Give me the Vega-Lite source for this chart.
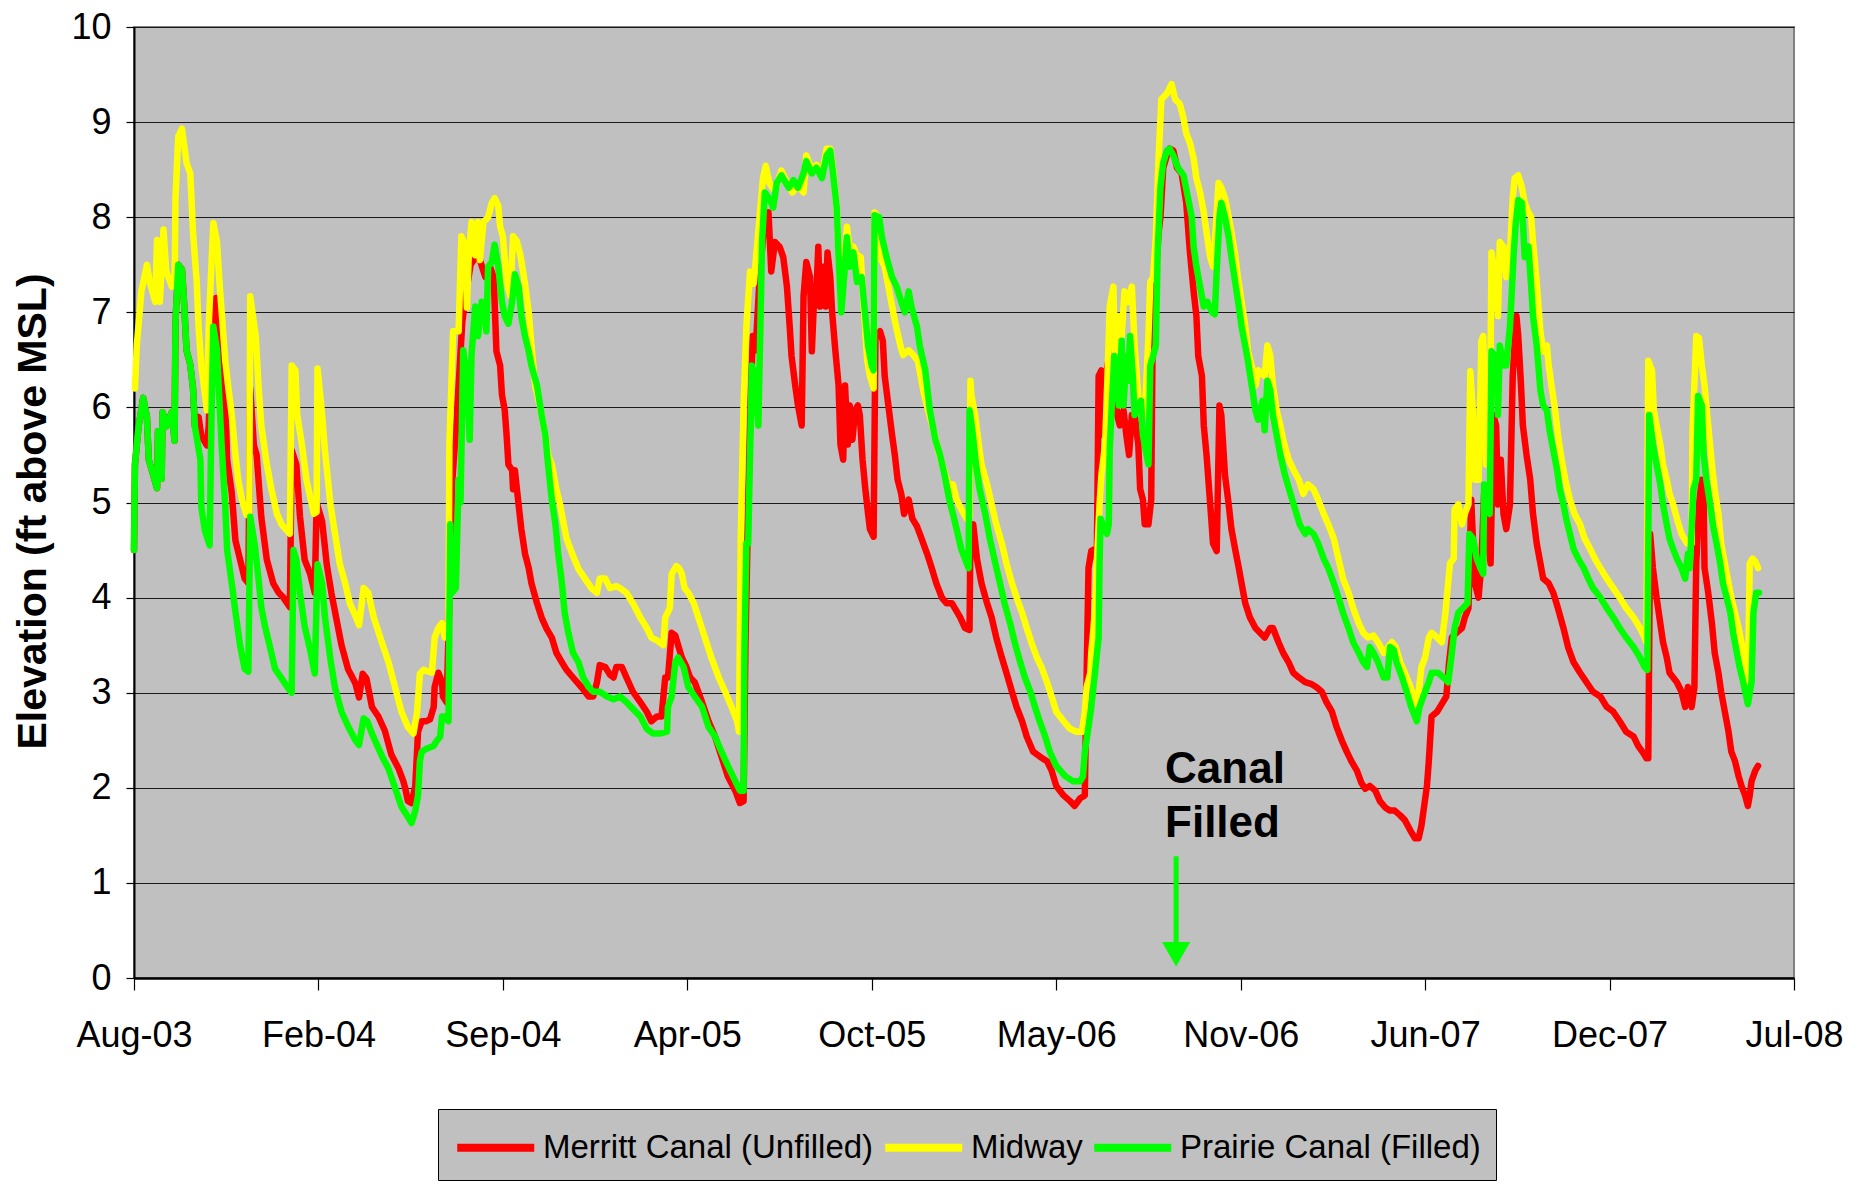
{
"$schema": "https://vega.github.io/schema/vega-lite/v6.json",
"width": 1660,
"height": 951,
"autosize": {"type": "none"},
"padding": {"left": 134, "top": 27, "right": 68, "bottom": 212},
"background": "#FFFFFF",
"datasets": {
"merritt": [
{"date":"2003-08-11","elev":4.5},{"date":"2003-08-12","elev":5.4},{"date":"2003-08-16","elev":5.8},{"date":"2003-08-21","elev":6.1},{"date":"2003-08-25","elev":5.9},{"date":"2003-08-27","elev":5.45},{"date":"2003-08-30","elev":5.35},{"date":"2003-09-05","elev":5.15},{"date":"2003-09-06","elev":5.75},{"date":"2003-09-10","elev":5.25},{"date":"2003-09-11","elev":5.95},{"date":"2003-09-15","elev":5.8},{"date":"2003-09-21","elev":5.95},{"date":"2003-09-24","elev":5.65},{"date":"2003-09-25","elev":6.9},{"date":"2003-09-28","elev":7.5},{"date":"2003-10-02","elev":7.45},{"date":"2003-10-04","elev":7.15},{"date":"2003-10-07","elev":6.6},{"date":"2003-10-11","elev":6.45},{"date":"2003-10-14","elev":6.2},{"date":"2003-10-16","elev":5.8},{"date":"2003-10-20","elev":5.9},{"date":"2003-10-23","elev":5.7},{"date":"2003-10-29","elev":5.6},{"date":"2003-10-31","elev":5.8},{"date":"2003-11-03","elev":6.6},{"date":"2003-11-08","elev":7.15},{"date":"2003-11-12","elev":6.45},{"date":"2003-11-18","elev":6.05},{"date":"2003-11-20","elev":5.45},{"date":"2003-11-25","elev":5.1},{"date":"2003-11-29","elev":4.6},{"date":"2003-12-04","elev":4.4},{"date":"2003-12-09","elev":4.2},{"date":"2003-12-13","elev":4.15},{"date":"2003-12-15","elev":6.2},{"date":"2003-12-19","elev":5.6},{"date":"2003-12-22","elev":5.5},{"date":"2003-12-27","elev":4.85},
{"date":"2004-01-02","elev":4.4},{"date":"2004-01-09","elev":4.15},{"date":"2004-01-15","elev":4.05},{"date":"2004-01-20","elev":4.0},{"date":"2004-01-27","elev":3.9},{"date":"2004-01-29","elev":5.55},{"date":"2004-02-03","elev":5.4},{"date":"2004-02-07","elev":4.85},{"date":"2004-02-12","elev":4.4},{"date":"2004-02-18","elev":4.25},{"date":"2004-02-23","elev":4.05},{"date":"2004-02-25","elev":5.0},{"date":"2004-03-02","elev":4.8},{"date":"2004-03-07","elev":4.35},{"date":"2004-03-12","elev":4.05},{"date":"2004-03-18","elev":3.75},{"date":"2004-03-23","elev":3.5},{"date":"2004-03-30","elev":3.25},{"date":"2004-04-07","elev":3.1},{"date":"2004-04-11","elev":2.95},{"date":"2004-04-15","elev":3.2},{"date":"2004-04-19","elev":3.15},{"date":"2004-04-25","elev":2.85},{"date":"2004-05-02","elev":2.75},{"date":"2004-05-09","elev":2.6},{"date":"2004-05-16","elev":2.35},{"date":"2004-05-24","elev":2.2},{"date":"2004-05-29","elev":2.07},{"date":"2004-05-31","elev":2.0},{"date":"2004-06-03","elev":1.86},{"date":"2004-06-07","elev":1.84},{"date":"2004-06-11","elev":2.02},{"date":"2004-06-14","elev":2.59},{"date":"2004-06-18","elev":2.7},{"date":"2004-06-23","elev":2.7},{"date":"2004-06-27","elev":2.72},{"date":"2004-07-01","elev":2.85},{"date":"2004-07-02","elev":3.06},{"date":"2004-07-06","elev":3.21},{"date":"2004-07-10","elev":3.11},{"date":"2004-07-11","elev":2.96},{"date":"2004-07-15","elev":2.9},{"date":"2004-07-17","elev":3.6},{"date":"2004-07-21","elev":5.2},{"date":"2004-07-26","elev":5.9},{"date":"2004-08-01","elev":6.9},{"date":"2004-08-05","elev":7.2},{"date":"2004-08-10","elev":7.5},{"date":"2004-08-17","elev":7.6},{"date":"2004-08-20","elev":7.55},{"date":"2004-08-26","elev":7.37},{"date":"2004-08-31","elev":7.48},{"date":"2004-09-04","elev":7.37},{"date":"2004-09-07","elev":6.59},{"date":"2004-09-11","elev":6.44},{"date":"2004-09-13","elev":6.13},{"date":"2004-09-16","elev":5.97},{"date":"2004-09-18","elev":5.71},{"date":"2004-09-20","elev":5.4},{"date":"2004-09-24","elev":5.34},{"date":"2004-09-25","elev":5.14},{"date":"2004-09-27","elev":5.34},{"date":"2004-10-01","elev":4.98},{"date":"2004-10-04","elev":4.72},{"date":"2004-10-08","elev":4.46},{"date":"2004-10-12","elev":4.31},{"date":"2004-10-15","elev":4.15},{"date":"2004-10-21","elev":3.94},{"date":"2004-10-26","elev":3.79},{"date":"2004-10-31","elev":3.68},{"date":"2004-11-06","elev":3.58},{"date":"2004-11-11","elev":3.42},{"date":"2004-11-17","elev":3.32},{"date":"2004-11-22","elev":3.24},{"date":"2004-11-29","elev":3.16},{"date":"2004-12-08","elev":3.06},{"date":"2004-12-16","elev":2.96},{"date":"2004-12-21","elev":2.96},{"date":"2004-12-25","elev":3.11},{"date":"2004-12-28","elev":3.29},
{"date":"2005-01-03","elev":3.27},{"date":"2005-01-08","elev":3.19},{"date":"2005-01-12","elev":3.16},{"date":"2005-01-15","elev":3.27},{"date":"2005-01-21","elev":3.27},{"date":"2005-01-26","elev":3.16},{"date":"2005-02-02","elev":3.01},{"date":"2005-02-10","elev":2.9},{"date":"2005-02-17","elev":2.8},{"date":"2005-02-22","elev":2.7},{"date":"2005-02-28","elev":2.75},{"date":"2005-03-05","elev":2.75},{"date":"2005-03-09","elev":3.16},{"date":"2005-03-12","elev":3.16},{"date":"2005-03-16","elev":3.63},{"date":"2005-03-20","elev":3.6},{"date":"2005-03-23","elev":3.5},{"date":"2005-03-27","elev":3.37},{"date":"2005-04-01","elev":3.27},{"date":"2005-04-05","elev":3.16},{"date":"2005-04-10","elev":3.11},{"date":"2005-04-18","elev":2.9},{"date":"2005-04-25","elev":2.7},{"date":"2005-05-02","elev":2.54},{"date":"2005-05-09","elev":2.33},{"date":"2005-05-16","elev":2.12},{"date":"2005-05-24","elev":1.97},{"date":"2005-05-29","elev":1.84},{"date":"2005-06-02","elev":1.86},{"date":"2005-06-04","elev":3.5},{"date":"2005-06-07","elev":5.0},{"date":"2005-06-10","elev":6.2},{"date":"2005-06-12","elev":6.75},{"date":"2005-06-15","elev":6.6},{"date":"2005-06-19","elev":7.3},{"date":"2005-06-24","elev":7.9},{"date":"2005-06-29","elev":8.05},{"date":"2005-07-02","elev":7.43},{"date":"2005-07-06","elev":7.74},{"date":"2005-07-11","elev":7.69},{"date":"2005-07-15","elev":7.58},{"date":"2005-07-19","elev":7.27},{"date":"2005-07-22","elev":6.85},{"date":"2005-07-24","elev":6.54},{"date":"2005-07-28","elev":6.23},{"date":"2005-07-31","elev":6.02},{"date":"2005-08-04","elev":5.81},{"date":"2005-08-06","elev":7.17},{"date":"2005-08-09","elev":7.53},{"date":"2005-08-13","elev":7.37},{"date":"2005-08-15","elev":6.59},{"date":"2005-08-18","elev":7.27},{"date":"2005-08-20","elev":7.22},{"date":"2005-08-22","elev":7.69},{"date":"2005-08-24","elev":7.06},{"date":"2005-08-27","elev":7.48},{"date":"2005-08-30","elev":7.06},{"date":"2005-09-01","elev":7.63},{"date":"2005-09-04","elev":7.37},{"date":"2005-09-06","elev":7.0},{"date":"2005-09-09","elev":6.65},{"date":"2005-09-13","elev":6.23},{"date":"2005-09-15","elev":5.61},{"date":"2005-09-18","elev":5.45},{"date":"2005-09-20","elev":6.23},{"date":"2005-09-23","elev":5.61},{"date":"2005-09-25","elev":6.02},{"date":"2005-09-28","elev":5.66},{"date":"2005-10-01","elev":5.97},{"date":"2005-10-04","elev":6.02},{"date":"2005-10-06","elev":5.92},{"date":"2005-10-09","elev":5.45},{"date":"2005-10-12","elev":5.14},{"date":"2005-10-15","elev":4.88},{"date":"2005-10-17","elev":4.72},{"date":"2005-10-21","elev":4.64},{"date":"2005-10-23","elev":6.75},{"date":"2005-10-28","elev":6.8},{"date":"2005-10-31","elev":6.7},{"date":"2005-11-02","elev":6.33},{"date":"2005-11-06","elev":6.02},{"date":"2005-11-10","elev":5.71},{"date":"2005-11-13","elev":5.5},{"date":"2005-11-16","elev":5.24},{"date":"2005-11-20","elev":5.09},{"date":"2005-11-23","elev":4.88},{"date":"2005-11-28","elev":5.03},{"date":"2005-12-02","elev":4.83},{"date":"2005-12-07","elev":4.75},{"date":"2005-12-12","elev":4.62},{"date":"2005-12-18","elev":4.46},{"date":"2005-12-23","elev":4.31},{"date":"2005-12-28","elev":4.15},
{"date":"2006-01-03","elev":4.0},{"date":"2006-01-08","elev":3.94},{"date":"2006-01-14","elev":3.94},{"date":"2006-01-17","elev":3.89},{"date":"2006-01-23","elev":3.79},{"date":"2006-01-28","elev":3.68},{"date":"2006-02-02","elev":3.66},{"date":"2006-02-03","elev":4.72},{"date":"2006-02-06","elev":4.77},{"date":"2006-02-10","elev":4.41},{"date":"2006-02-15","elev":4.15},{"date":"2006-02-21","elev":3.94},{"date":"2006-02-26","elev":3.79},{"date":"2006-03-03","elev":3.58},{"date":"2006-03-09","elev":3.37},{"date":"2006-03-14","elev":3.21},{"date":"2006-03-20","elev":3.01},{"date":"2006-03-25","elev":2.85},{"date":"2006-03-31","elev":2.7},{"date":"2006-04-05","elev":2.54},{"date":"2006-04-12","elev":2.38},{"date":"2006-04-19","elev":2.33},{"date":"2006-04-27","elev":2.28},{"date":"2006-05-02","elev":2.18},{"date":"2006-05-07","elev":2.02},{"date":"2006-05-15","elev":1.92},{"date":"2006-05-22","elev":1.86},{"date":"2006-05-27","elev":1.81},{"date":"2006-06-02","elev":1.89},{"date":"2006-06-07","elev":1.92},{"date":"2006-06-09","elev":3.2},{"date":"2006-06-11","elev":4.31},{"date":"2006-06-14","elev":4.49},{"date":"2006-06-18","elev":4.51},{"date":"2006-06-20","elev":4.4},{"date":"2006-06-22","elev":6.33},{"date":"2006-06-25","elev":6.39},{"date":"2006-06-27","elev":5.71},{"date":"2006-06-30","elev":6.33},{"date":"2006-07-04","elev":6.59},{"date":"2006-07-08","elev":6.65},{"date":"2006-07-12","elev":5.92},{"date":"2006-07-15","elev":5.81},{"date":"2006-07-19","elev":5.97},{"date":"2006-07-22","elev":5.71},{"date":"2006-07-25","elev":5.5},{"date":"2006-07-28","elev":5.92},{"date":"2006-07-31","elev":5.92},{"date":"2006-08-04","elev":5.61},{"date":"2006-08-06","elev":5.14},{"date":"2006-08-09","elev":5.03},{"date":"2006-08-11","elev":4.77},{"date":"2006-08-15","elev":4.77},{"date":"2006-08-18","elev":5.03},{"date":"2006-08-20","elev":7.22},{"date":"2006-08-22","elev":7.27},{"date":"2006-08-26","elev":7.84},{"date":"2006-08-28","elev":8.0},{"date":"2006-08-31","elev":8.52},{"date":"2006-09-04","elev":8.65},{"date":"2006-09-07","elev":8.72},{"date":"2006-09-11","elev":8.7},{"date":"2006-09-15","elev":8.52},{"date":"2006-09-20","elev":8.46},{"date":"2006-09-25","elev":8.15},{"date":"2006-09-29","elev":7.63},{"date":"2006-10-03","elev":7.22},{"date":"2006-10-06","elev":6.96},{"date":"2006-10-08","elev":6.54},{"date":"2006-10-12","elev":6.33},{"date":"2006-10-14","elev":5.81},{"date":"2006-10-17","elev":5.5},{"date":"2006-10-21","elev":4.98},{"date":"2006-10-24","elev":4.57},{"date":"2006-10-28","elev":4.49},{"date":"2006-10-31","elev":6.02},{"date":"2006-11-02","elev":5.92},{"date":"2006-11-06","elev":5.29},{"date":"2006-11-10","elev":4.98},{"date":"2006-11-13","elev":4.72},{"date":"2006-11-17","elev":4.51},{"date":"2006-11-21","elev":4.31},{"date":"2006-11-24","elev":4.15},{"date":"2006-11-28","elev":3.94},{"date":"2006-12-03","elev":3.79},{"date":"2006-12-09","elev":3.68},{"date":"2006-12-14","elev":3.63},{"date":"2006-12-19","elev":3.58},{"date":"2006-12-25","elev":3.68},{"date":"2006-12-28","elev":3.68},
{"date":"2007-01-03","elev":3.53},{"date":"2007-01-08","elev":3.42},{"date":"2007-01-14","elev":3.32},{"date":"2007-01-19","elev":3.21},{"date":"2007-01-25","elev":3.16},{"date":"2007-02-01","elev":3.11},{"date":"2007-02-08","elev":3.09},{"date":"2007-02-13","elev":3.06},{"date":"2007-02-19","elev":3.01},{"date":"2007-02-24","elev":2.9},{"date":"2007-03-02","elev":2.8},{"date":"2007-03-07","elev":2.64},{"date":"2007-03-13","elev":2.49},{"date":"2007-03-18","elev":2.38},{"date":"2007-03-23","elev":2.28},{"date":"2007-03-29","elev":2.18},{"date":"2007-04-03","elev":2.05},{"date":"2007-04-07","elev":1.99},{"date":"2007-04-12","elev":2.02},{"date":"2007-04-18","elev":1.97},{"date":"2007-04-23","elev":1.86},{"date":"2007-04-29","elev":1.79},{"date":"2007-05-04","elev":1.76},{"date":"2007-05-09","elev":1.76},{"date":"2007-05-15","elev":1.71},{"date":"2007-05-20","elev":1.66},{"date":"2007-05-26","elev":1.55},{"date":"2007-05-31","elev":1.47},{"date":"2007-06-04","elev":1.47},{"date":"2007-06-07","elev":1.6},{"date":"2007-06-10","elev":1.81},{"date":"2007-06-13","elev":2.02},{"date":"2007-06-15","elev":2.28},{"date":"2007-06-16","elev":2.44},{"date":"2007-06-18","elev":2.75},{"date":"2007-06-24","elev":2.8},{"date":"2007-06-29","elev":2.88},{"date":"2007-07-04","elev":2.96},{"date":"2007-07-07","elev":3.32},{"date":"2007-07-10","elev":3.58},{"date":"2007-07-15","elev":3.63},{"date":"2007-07-21","elev":3.68},{"date":"2007-07-24","elev":3.79},{"date":"2007-07-28","elev":3.89},{"date":"2007-07-31","elev":5.03},{"date":"2007-08-04","elev":4.15},{"date":"2007-08-08","elev":4.0},{"date":"2007-08-11","elev":4.36},{"date":"2007-08-14","elev":5.09},{"date":"2007-08-18","elev":4.62},{"date":"2007-08-21","elev":4.36},{"date":"2007-08-24","elev":5.92},{"date":"2007-08-27","elev":5.81},{"date":"2007-08-29","elev":4.98},{"date":"2007-09-01","elev":5.45},{"date":"2007-09-04","elev":4.88},{"date":"2007-09-07","elev":4.72},{"date":"2007-09-11","elev":4.98},{"date":"2007-09-14","elev":6.33},{"date":"2007-09-18","elev":6.96},{"date":"2007-09-20","elev":6.75},{"date":"2007-09-23","elev":6.23},{"date":"2007-09-25","elev":5.81},{"date":"2007-09-29","elev":5.5},{"date":"2007-10-03","elev":5.24},{"date":"2007-10-06","elev":4.88},{"date":"2007-10-10","elev":4.57},{"date":"2007-10-14","elev":4.36},{"date":"2007-10-17","elev":4.2},{"date":"2007-10-23","elev":4.15},{"date":"2007-10-28","elev":4.05},{"date":"2007-11-02","elev":3.89},{"date":"2007-11-08","elev":3.68},{"date":"2007-11-13","elev":3.48},{"date":"2007-11-19","elev":3.32},{"date":"2007-11-26","elev":3.21},{"date":"2007-12-03","elev":3.11},{"date":"2007-12-10","elev":3.01},{"date":"2007-12-18","elev":2.96},{"date":"2007-12-25","elev":2.85},
{"date":"2008-01-01","elev":2.8},{"date":"2008-01-08","elev":2.7},{"date":"2008-01-15","elev":2.59},{"date":"2008-01-23","elev":2.54},{"date":"2008-01-28","elev":2.44},{"date":"2008-02-03","elev":2.36},{"date":"2008-02-06","elev":2.31},{"date":"2008-02-08","elev":2.31},{"date":"2008-02-10","elev":4.67},{"date":"2008-02-13","elev":4.31},{"date":"2008-02-17","elev":4.0},{"date":"2008-02-21","elev":3.73},{"date":"2008-02-24","elev":3.53},{"date":"2008-02-28","elev":3.37},{"date":"2008-03-02","elev":3.21},{"date":"2008-03-06","elev":3.16},{"date":"2008-03-10","elev":3.11},{"date":"2008-03-15","elev":3.01},{"date":"2008-03-19","elev":2.85},{"date":"2008-03-22","elev":3.06},{"date":"2008-03-26","elev":2.85},{"date":"2008-03-29","elev":3.06},{"date":"2008-03-31","elev":4.36},{"date":"2008-04-03","elev":4.98},{"date":"2008-04-06","elev":5.24},{"date":"2008-04-08","elev":5.03},{"date":"2008-04-09","elev":4.31},{"date":"2008-04-13","elev":4.05},{"date":"2008-04-17","elev":3.73},{"date":"2008-04-20","elev":3.42},{"date":"2008-04-24","elev":3.21},{"date":"2008-04-27","elev":3.01},{"date":"2008-05-01","elev":2.8},{"date":"2008-05-05","elev":2.59},{"date":"2008-05-08","elev":2.38},{"date":"2008-05-12","elev":2.28},{"date":"2008-05-16","elev":2.12},{"date":"2008-05-19","elev":2.02},{"date":"2008-05-23","elev":1.92},{"date":"2008-05-26","elev":1.81},{"date":"2008-05-28","elev":1.92},{"date":"2008-05-30","elev":2.07},{"date":"2008-06-03","elev":2.18},{"date":"2008-06-06","elev":2.23}
],
"midway": [
{"date":"2003-08-12","elev":6.2},{"date":"2003-08-14","elev":6.65},{"date":"2003-08-19","elev":7.22},{"date":"2003-08-25","elev":7.5},{"date":"2003-08-28","elev":7.32},{"date":"2003-09-03","elev":7.11},{"date":"2003-09-05","elev":7.76},{"date":"2003-09-08","elev":7.11},{"date":"2003-09-12","elev":7.87},{"date":"2003-09-15","elev":7.43},{"date":"2003-09-21","elev":7.27},{"date":"2003-09-24","elev":7.3},{"date":"2003-09-25","elev":8.2},{"date":"2003-09-28","elev":8.85},{"date":"2003-10-02","elev":8.93},{"date":"2003-10-07","elev":8.57},{"date":"2003-10-11","elev":8.46},{"date":"2003-10-13","elev":8.05},{"date":"2003-10-14","elev":7.84},{"date":"2003-10-18","elev":7.32},{"date":"2003-10-20","elev":6.85},{"date":"2003-10-23","elev":6.44},{"date":"2003-10-27","elev":6.13},{"date":"2003-10-29","elev":5.97},{"date":"2003-10-31","elev":6.85},{"date":"2003-11-05","elev":7.94},{"date":"2003-11-09","elev":7.74},{"date":"2003-11-12","elev":7.27},{"date":"2003-11-18","elev":6.49},{"date":"2003-11-21","elev":6.23},{"date":"2003-11-25","elev":5.92},{"date":"2003-11-29","elev":5.5},{"date":"2003-12-02","elev":5.24},{"date":"2003-12-06","elev":5.03},{"date":"2003-12-11","elev":4.87},{"date":"2003-12-14","elev":4.9},{"date":"2003-12-15","elev":7.17},{"date":"2003-12-18","elev":6.96},{"date":"2003-12-21","elev":6.75},{"date":"2003-12-24","elev":6.23},{"date":"2003-12-27","elev":5.81},
{"date":"2004-01-02","elev":5.4},{"date":"2004-01-07","elev":5.14},{"date":"2004-01-13","elev":4.88},{"date":"2004-01-18","elev":4.77},{"date":"2004-01-27","elev":4.67},{"date":"2004-01-29","elev":6.44},{"date":"2004-02-02","elev":6.39},{"date":"2004-02-04","elev":5.92},{"date":"2004-02-09","elev":5.61},{"date":"2004-02-14","elev":5.24},{"date":"2004-02-22","elev":4.88},{"date":"2004-02-25","elev":4.9},{"date":"2004-02-26","elev":6.41},{"date":"2004-03-02","elev":5.92},{"date":"2004-03-05","elev":5.55},{"date":"2004-03-11","elev":4.98},{"date":"2004-03-16","elev":4.67},{"date":"2004-03-21","elev":4.36},{"date":"2004-03-27","elev":4.15},{"date":"2004-04-01","elev":3.94},{"date":"2004-04-08","elev":3.79},{"date":"2004-04-11","elev":3.71},{"date":"2004-04-16","elev":4.1},{"date":"2004-04-21","elev":4.05},{"date":"2004-04-27","elev":3.79},{"date":"2004-05-04","elev":3.58},{"date":"2004-05-13","elev":3.32},{"date":"2004-05-20","elev":3.06},{"date":"2004-05-27","elev":2.8},{"date":"2004-06-03","elev":2.64},{"date":"2004-06-09","elev":2.57},{"date":"2004-06-13","elev":2.8},{"date":"2004-06-16","elev":3.2},{"date":"2004-06-20","elev":3.24},{"date":"2004-06-29","elev":3.21},{"date":"2004-07-02","elev":3.58},{"date":"2004-07-06","elev":3.68},{"date":"2004-07-10","elev":3.73},{"date":"2004-07-13","elev":3.58},{"date":"2004-07-17","elev":3.65},{"date":"2004-07-18","elev":5.6},{"date":"2004-07-22","elev":6.8},{"date":"2004-07-28","elev":6.8},{"date":"2004-07-31","elev":7.8},{"date":"2004-08-04","elev":7.7},{"date":"2004-08-06","elev":7.05},{"date":"2004-08-08","elev":7.6},{"date":"2004-08-11","elev":7.95},{"date":"2004-08-15","elev":7.6},{"date":"2004-08-18","elev":7.95},{"date":"2004-08-20","elev":7.55},{"date":"2004-08-24","elev":7.95},{"date":"2004-08-29","elev":8.0},{"date":"2004-09-02","elev":8.15},{"date":"2004-09-05","elev":8.2},{"date":"2004-09-09","elev":8.12},{"date":"2004-09-11","elev":7.9},{"date":"2004-09-14","elev":7.8},{"date":"2004-09-18","elev":7.32},{"date":"2004-09-22","elev":7.17},{"date":"2004-09-25","elev":7.8},{"date":"2004-09-29","elev":7.75},{"date":"2004-10-03","elev":7.6},{"date":"2004-10-08","elev":7.3},{"date":"2004-10-12","elev":7.0},{"date":"2004-10-15","elev":6.65},{"date":"2004-10-19","elev":6.23},{"date":"2004-10-24","elev":6.02},{"date":"2004-10-30","elev":5.71},{"date":"2004-11-02","elev":5.5},{"date":"2004-11-06","elev":5.4},{"date":"2004-11-11","elev":5.14},{"date":"2004-11-15","elev":4.98},{"date":"2004-11-19","elev":4.77},{"date":"2004-11-22","elev":4.62},{"date":"2004-11-29","elev":4.44},{"date":"2004-12-05","elev":4.3},{"date":"2004-12-12","elev":4.2},{"date":"2004-12-19","elev":4.1},{"date":"2004-12-25","elev":4.05},{"date":"2004-12-28","elev":4.2},
{"date":"2005-01-03","elev":4.2},{"date":"2005-01-08","elev":4.1},{"date":"2005-01-15","elev":4.12},{"date":"2005-01-19","elev":4.1},{"date":"2005-01-26","elev":4.05},{"date":"2005-02-02","elev":3.94},{"date":"2005-02-10","elev":3.79},{"date":"2005-02-17","elev":3.68},{"date":"2005-02-22","elev":3.58},{"date":"2005-02-28","elev":3.55},{"date":"2005-03-07","elev":3.5},{"date":"2005-03-09","elev":3.79},{"date":"2005-03-14","elev":3.89},{"date":"2005-03-16","elev":4.25},{"date":"2005-03-21","elev":4.33},{"date":"2005-03-24","elev":4.31},{"date":"2005-03-27","elev":4.25},{"date":"2005-03-30","elev":4.1},{"date":"2005-04-03","elev":4.05},{"date":"2005-04-09","elev":3.94},{"date":"2005-04-14","elev":3.79},{"date":"2005-04-21","elev":3.58},{"date":"2005-04-28","elev":3.37},{"date":"2005-05-06","elev":3.16},{"date":"2005-05-13","elev":3.01},{"date":"2005-05-20","elev":2.85},{"date":"2005-05-26","elev":2.7},{"date":"2005-05-28","elev":2.59},{"date":"2005-05-30","elev":4.67},{"date":"2005-06-02","elev":6.02},{"date":"2005-06-05","elev":6.85},{"date":"2005-06-09","elev":7.43},{"date":"2005-06-13","elev":7.3},{"date":"2005-06-17","elev":7.74},{"date":"2005-06-23","elev":8.41},{"date":"2005-06-26","elev":8.54},{"date":"2005-06-30","elev":8.36},{"date":"2005-07-04","elev":8.3},{"date":"2005-07-07","elev":8.31},{"date":"2005-07-13","elev":8.49},{"date":"2005-07-20","elev":8.35},{"date":"2005-07-25","elev":8.26},{"date":"2005-07-31","elev":8.33},{"date":"2005-08-06","elev":8.26},{"date":"2005-08-09","elev":8.65},{"date":"2005-08-15","elev":8.5},{"date":"2005-08-20","elev":8.55},{"date":"2005-08-26","elev":8.45},{"date":"2005-08-31","elev":8.72},{"date":"2005-09-04","elev":8.72},{"date":"2005-09-07","elev":8.5},{"date":"2005-09-11","elev":8.1},{"date":"2005-09-13","elev":7.6},{"date":"2005-09-16","elev":7.1},{"date":"2005-09-19","elev":7.5},{"date":"2005-09-22","elev":7.9},{"date":"2005-09-26","elev":7.6},{"date":"2005-09-29","elev":7.69},{"date":"2005-10-03","elev":7.6},{"date":"2005-10-07","elev":7.58},{"date":"2005-10-11","elev":6.96},{"date":"2005-10-14","elev":6.5},{"date":"2005-10-17","elev":6.33},{"date":"2005-10-21","elev":6.2},{"date":"2005-10-22","elev":8.05},{"date":"2005-10-26","elev":8.0},{"date":"2005-10-28","elev":7.58},{"date":"2005-11-02","elev":7.48},{"date":"2005-11-07","elev":7.22},{"date":"2005-11-13","elev":6.91},{"date":"2005-11-19","elev":6.65},{"date":"2005-11-22","elev":6.55},{"date":"2005-11-28","elev":6.6},{"date":"2005-12-03","elev":6.55},{"date":"2005-12-08","elev":6.49},{"date":"2005-12-14","elev":6.17},{"date":"2005-12-19","elev":5.97},{"date":"2005-12-25","elev":5.76},{"date":"2005-12-30","elev":5.55},
{"date":"2006-01-05","elev":5.35},{"date":"2006-01-10","elev":5.19},{"date":"2006-01-15","elev":5.19},{"date":"2006-01-19","elev":5.03},{"date":"2006-01-24","elev":4.93},{"date":"2006-01-30","elev":4.83},{"date":"2006-02-02","elev":4.85},{"date":"2006-02-03","elev":6.28},{"date":"2006-02-04","elev":6.13},{"date":"2006-02-08","elev":5.92},{"date":"2006-02-12","elev":5.61},{"date":"2006-02-15","elev":5.4},{"date":"2006-02-21","elev":5.19},{"date":"2006-02-26","elev":4.98},{"date":"2006-03-03","elev":4.77},{"date":"2006-03-09","elev":4.57},{"date":"2006-03-14","elev":4.36},{"date":"2006-03-20","elev":4.15},{"date":"2006-03-25","elev":4.0},{"date":"2006-03-31","elev":3.84},{"date":"2006-04-05","elev":3.68},{"date":"2006-04-10","elev":3.53},{"date":"2006-04-16","elev":3.37},{"date":"2006-04-21","elev":3.27},{"date":"2006-04-27","elev":3.11},{"date":"2006-05-02","elev":2.96},{"date":"2006-05-07","elev":2.8},{"date":"2006-05-15","elev":2.7},{"date":"2006-05-22","elev":2.62},{"date":"2006-05-29","elev":2.59},{"date":"2006-06-04","elev":2.59},{"date":"2006-06-07","elev":2.8},{"date":"2006-06-09","elev":3.06},{"date":"2006-06-13","elev":3.21},{"date":"2006-06-14","elev":3.42},{"date":"2006-06-18","elev":3.84},{"date":"2006-06-20","elev":4.36},{"date":"2006-06-23","elev":4.98},{"date":"2006-06-25","elev":5.29},{"date":"2006-06-29","elev":5.61},{"date":"2006-07-02","elev":6.44},{"date":"2006-07-04","elev":7.06},{"date":"2006-07-08","elev":7.27},{"date":"2006-07-10","elev":6.44},{"date":"2006-07-13","elev":6.96},{"date":"2006-07-17","elev":6.75},{"date":"2006-07-20","elev":7.22},{"date":"2006-07-24","elev":7.11},{"date":"2006-07-28","elev":7.27},{"date":"2006-07-31","elev":6.65},{"date":"2006-08-04","elev":6.13},{"date":"2006-08-08","elev":5.92},{"date":"2006-08-11","elev":5.92},{"date":"2006-08-15","elev":6.75},{"date":"2006-08-17","elev":7.32},{"date":"2006-08-20","elev":7.37},{"date":"2006-08-23","elev":7.79},{"date":"2006-08-26","elev":8.62},{"date":"2006-08-29","elev":9.24},{"date":"2006-09-04","elev":9.3},{"date":"2006-09-09","elev":9.4},{"date":"2006-09-13","elev":9.24},{"date":"2006-09-18","elev":9.19},{"date":"2006-09-22","elev":9.04},{"date":"2006-09-25","elev":8.88},{"date":"2006-09-29","elev":8.78},{"date":"2006-10-03","elev":8.62},{"date":"2006-10-06","elev":8.41},{"date":"2006-10-10","elev":8.26},{"date":"2006-10-14","elev":8.05},{"date":"2006-10-17","elev":7.84},{"date":"2006-10-21","elev":7.58},{"date":"2006-10-24","elev":7.48},{"date":"2006-10-26","elev":7.74},{"date":"2006-10-30","elev":8.36},{"date":"2006-11-02","elev":8.31},{"date":"2006-11-06","elev":8.2},{"date":"2006-11-10","elev":8.0},{"date":"2006-11-13","elev":7.84},{"date":"2006-11-17","elev":7.6},{"date":"2006-11-20","elev":7.37},{"date":"2006-11-24","elev":7.11},{"date":"2006-11-28","elev":6.85},{"date":"2006-12-01","elev":6.59},{"date":"2006-12-05","elev":6.44},{"date":"2006-12-09","elev":6.23},{"date":"2006-12-12","elev":6.39},{"date":"2006-12-19","elev":6.33},{"date":"2006-12-22","elev":6.65},{"date":"2006-12-25","elev":6.55},{"date":"2006-12-28","elev":6.23},
{"date":"2007-01-01","elev":5.97},{"date":"2007-01-05","elev":5.81},{"date":"2007-01-08","elev":5.66},{"date":"2007-01-14","elev":5.45},{"date":"2007-01-19","elev":5.35},{"date":"2007-01-25","elev":5.24},{"date":"2007-01-30","elev":5.09},{"date":"2007-02-04","elev":5.19},{"date":"2007-02-10","elev":5.14},{"date":"2007-02-15","elev":5.03},{"date":"2007-02-21","elev":4.88},{"date":"2007-02-26","elev":4.77},{"date":"2007-03-04","elev":4.62},{"date":"2007-03-09","elev":4.41},{"date":"2007-03-14","elev":4.2},{"date":"2007-03-20","elev":4.05},{"date":"2007-03-25","elev":3.89},{"date":"2007-03-31","elev":3.73},{"date":"2007-04-05","elev":3.63},{"date":"2007-04-10","elev":3.58},{"date":"2007-04-16","elev":3.6},{"date":"2007-04-21","elev":3.53},{"date":"2007-04-27","elev":3.42},{"date":"2007-05-02","elev":3.48},{"date":"2007-05-06","elev":3.53},{"date":"2007-05-10","elev":3.48},{"date":"2007-05-15","elev":3.32},{"date":"2007-05-20","elev":3.21},{"date":"2007-05-26","elev":3.06},{"date":"2007-05-30","elev":2.96},{"date":"2007-06-02","elev":2.85},{"date":"2007-06-04","elev":3.01},{"date":"2007-06-07","elev":3.27},{"date":"2007-06-11","elev":3.37},{"date":"2007-06-15","elev":3.58},{"date":"2007-06-18","elev":3.63},{"date":"2007-06-24","elev":3.58},{"date":"2007-06-29","elev":3.53},{"date":"2007-07-03","elev":3.84},{"date":"2007-07-05","elev":4.05},{"date":"2007-07-08","elev":4.36},{"date":"2007-07-12","elev":4.41},{"date":"2007-07-13","elev":4.93},{"date":"2007-07-17","elev":4.98},{"date":"2007-07-21","elev":4.77},{"date":"2007-07-24","elev":4.88},{"date":"2007-07-28","elev":4.98},{"date":"2007-07-30","elev":6.38},{"date":"2007-08-02","elev":5.92},{"date":"2007-08-04","elev":5.24},{"date":"2007-08-08","elev":5.24},{"date":"2007-08-11","elev":6.7},{"date":"2007-08-13","elev":6.75},{"date":"2007-08-16","elev":5.4},{"date":"2007-08-20","elev":5.5},{"date":"2007-08-22","elev":7.63},{"date":"2007-08-26","elev":7.37},{"date":"2007-08-29","elev":6.96},{"date":"2007-08-31","elev":7.74},{"date":"2007-09-04","elev":7.69},{"date":"2007-09-07","elev":7.37},{"date":"2007-09-11","elev":7.63},{"date":"2007-09-14","elev":8.2},{"date":"2007-09-16","elev":8.41},{"date":"2007-09-20","elev":8.44},{"date":"2007-09-24","elev":8.31},{"date":"2007-09-27","elev":8.15},{"date":"2007-10-01","elev":8.05},{"date":"2007-10-04","elev":8.0},{"date":"2007-10-06","elev":7.74},{"date":"2007-10-10","elev":7.32},{"date":"2007-10-14","elev":6.8},{"date":"2007-10-17","elev":6.59},{"date":"2007-10-21","elev":6.65},{"date":"2007-10-23","elev":6.44},{"date":"2007-10-26","elev":6.23},{"date":"2007-10-30","elev":5.97},{"date":"2007-11-02","elev":5.71},{"date":"2007-11-06","elev":5.45},{"date":"2007-11-10","elev":5.24},{"date":"2007-11-15","elev":5.03},{"date":"2007-11-20","elev":4.88},{"date":"2007-11-26","elev":4.77},{"date":"2007-12-01","elev":4.62},{"date":"2007-12-07","elev":4.51},{"date":"2007-12-12","elev":4.41},{"date":"2007-12-18","elev":4.31},{"date":"2007-12-25","elev":4.2},
{"date":"2008-01-01","elev":4.1},{"date":"2008-01-08","elev":4.0},{"date":"2008-01-15","elev":3.89},{"date":"2008-01-23","elev":3.79},{"date":"2008-01-30","elev":3.68},{"date":"2008-02-04","elev":3.58},{"date":"2008-02-06","elev":3.53},{"date":"2008-02-08","elev":6.49},{"date":"2008-02-12","elev":6.39},{"date":"2008-02-14","elev":5.97},{"date":"2008-02-17","elev":5.81},{"date":"2008-02-21","elev":5.61},{"date":"2008-02-24","elev":5.4},{"date":"2008-02-28","elev":5.24},{"date":"2008-03-02","elev":5.09},{"date":"2008-03-06","elev":4.98},{"date":"2008-03-10","elev":4.83},{"date":"2008-03-15","elev":4.67},{"date":"2008-03-21","elev":4.57},{"date":"2008-03-26","elev":4.57},{"date":"2008-03-27","elev":5.76},{"date":"2008-03-31","elev":6.75},{"date":"2008-04-03","elev":6.73},{"date":"2008-04-06","elev":6.44},{"date":"2008-04-09","elev":6.23},{"date":"2008-04-13","elev":5.81},{"date":"2008-04-17","elev":5.4},{"date":"2008-04-20","elev":5.14},{"date":"2008-04-24","elev":4.88},{"date":"2008-04-27","elev":4.57},{"date":"2008-05-01","elev":4.36},{"date":"2008-05-05","elev":4.15},{"date":"2008-05-08","elev":4.0},{"date":"2008-05-12","elev":3.84},{"date":"2008-05-16","elev":3.68},{"date":"2008-05-19","elev":3.53},{"date":"2008-05-24","elev":3.21},{"date":"2008-05-26","elev":3.11},{"date":"2008-05-28","elev":4.36},{"date":"2008-05-31","elev":4.41},{"date":"2008-06-03","elev":4.38},{"date":"2008-06-06","elev":4.31}
],
"prairie": [
{"date":"2003-08-11","elev":4.5},{"date":"2003-08-12","elev":5.4},{"date":"2003-08-16","elev":5.8},{"date":"2003-08-21","elev":6.1},{"date":"2003-08-25","elev":5.9},{"date":"2003-08-27","elev":5.45},{"date":"2003-08-30","elev":5.35},{"date":"2003-09-05","elev":5.15},{"date":"2003-09-06","elev":5.75},{"date":"2003-09-10","elev":5.25},{"date":"2003-09-11","elev":5.95},{"date":"2003-09-15","elev":5.8},{"date":"2003-09-21","elev":5.95},{"date":"2003-09-24","elev":5.65},{"date":"2003-09-25","elev":6.9},{"date":"2003-09-28","elev":7.5},{"date":"2003-10-02","elev":7.45},{"date":"2003-10-04","elev":7.15},{"date":"2003-10-07","elev":6.6},{"date":"2003-10-11","elev":6.45},{"date":"2003-10-14","elev":6.2},{"date":"2003-10-16","elev":5.8},{"date":"2003-10-22","elev":5.45},{"date":"2003-10-23","elev":4.95},{"date":"2003-10-27","elev":4.7},{"date":"2003-11-01","elev":4.55},{"date":"2003-11-03","elev":5.9},{"date":"2003-11-05","elev":6.85},{"date":"2003-11-09","elev":6.6},{"date":"2003-11-12","elev":6.0},{"date":"2003-11-14","elev":5.6},{"date":"2003-11-18","elev":4.95},{"date":"2003-11-20","elev":4.5},{"date":"2003-11-25","elev":4.15},{"date":"2003-11-29","elev":3.85},{"date":"2003-12-04","elev":3.5},{"date":"2003-12-09","elev":3.25},{"date":"2003-12-13","elev":3.22},{"date":"2003-12-15","elev":4.85},{"date":"2003-12-20","elev":4.55},{"date":"2003-12-24","elev":4.2},{"date":"2003-12-27","elev":3.9},{"date":"2003-12-31","elev":3.7},
{"date":"2004-01-05","elev":3.5},{"date":"2004-01-11","elev":3.25},{"date":"2004-01-18","elev":3.15},{"date":"2004-01-25","elev":3.05},{"date":"2004-01-29","elev":3.0},{"date":"2004-01-31","elev":4.5},{"date":"2004-02-03","elev":4.4},{"date":"2004-02-07","elev":4.05},{"date":"2004-02-12","elev":3.7},{"date":"2004-02-18","elev":3.45},{"date":"2004-02-23","elev":3.2},{"date":"2004-02-26","elev":4.35},{"date":"2004-03-02","elev":4.15},{"date":"2004-03-05","elev":3.8},{"date":"2004-03-11","elev":3.35},{"date":"2004-03-16","elev":3.05},{"date":"2004-03-23","elev":2.8},{"date":"2004-03-30","elev":2.65},{"date":"2004-04-07","elev":2.5},{"date":"2004-04-11","elev":2.45},{"date":"2004-04-16","elev":2.73},{"date":"2004-04-20","elev":2.7},{"date":"2004-04-25","elev":2.57},{"date":"2004-05-06","elev":2.33},{"date":"2004-05-13","elev":2.2},{"date":"2004-05-20","elev":2.0},{"date":"2004-05-27","elev":1.8},{"date":"2004-06-02","elev":1.71},{"date":"2004-06-07","elev":1.63},{"date":"2004-06-11","elev":1.76},{"date":"2004-06-14","elev":1.92},{"date":"2004-06-16","elev":2.28},{"date":"2004-06-18","elev":2.38},{"date":"2004-06-23","elev":2.41},{"date":"2004-07-01","elev":2.44},{"date":"2004-07-04","elev":2.49},{"date":"2004-07-08","elev":2.54},{"date":"2004-07-10","elev":2.75},{"date":"2004-07-13","elev":2.75},{"date":"2004-07-17","elev":2.7},{"date":"2004-07-19","elev":4.77},{"date":"2004-07-21","elev":4.05},{"date":"2004-07-25","elev":4.1},{"date":"2004-07-28","elev":5.24},{"date":"2004-07-30","elev":5.0},{"date":"2004-08-02","elev":6.6},{"date":"2004-08-06","elev":6.33},{"date":"2004-08-09","elev":5.66},{"date":"2004-08-11","elev":6.55},{"date":"2004-08-15","elev":7.06},{"date":"2004-08-18","elev":6.75},{"date":"2004-08-22","elev":7.11},{"date":"2004-08-26","elev":6.96},{"date":"2004-08-27","elev":6.8},{"date":"2004-08-29","elev":7.48},{"date":"2004-09-02","elev":7.53},{"date":"2004-09-05","elev":7.71},{"date":"2004-09-09","elev":7.48},{"date":"2004-09-13","elev":7.11},{"date":"2004-09-16","elev":6.96},{"date":"2004-09-20","elev":6.88},{"date":"2004-09-24","elev":7.11},{"date":"2004-09-27","elev":7.4},{"date":"2004-10-01","elev":7.27},{"date":"2004-10-04","elev":6.96},{"date":"2004-10-08","elev":6.75},{"date":"2004-10-12","elev":6.59},{"date":"2004-10-15","elev":6.44},{"date":"2004-10-21","elev":6.23},{"date":"2004-10-26","elev":5.92},{"date":"2004-10-30","elev":5.71},{"date":"2004-11-02","elev":5.4},{"date":"2004-11-06","elev":5.03},{"date":"2004-11-10","elev":4.77},{"date":"2004-11-13","elev":4.46},{"date":"2004-11-17","elev":4.15},{"date":"2004-11-20","elev":3.84},{"date":"2004-11-24","elev":3.63},{"date":"2004-11-29","elev":3.42},{"date":"2004-12-05","elev":3.32},{"date":"2004-12-10","elev":3.16},{"date":"2004-12-16","elev":3.06},{"date":"2004-12-21","elev":3.01},{"date":"2004-12-28","elev":3.01},
{"date":"2005-01-05","elev":2.96},{"date":"2005-01-12","elev":2.93},{"date":"2005-01-19","elev":2.96},{"date":"2005-01-26","elev":2.9},{"date":"2005-02-02","elev":2.83},{"date":"2005-02-10","elev":2.75},{"date":"2005-02-17","elev":2.62},{"date":"2005-02-24","elev":2.57},{"date":"2005-03-03","elev":2.57},{"date":"2005-03-11","elev":2.59},{"date":"2005-03-12","elev":2.85},{"date":"2005-03-16","elev":2.96},{"date":"2005-03-20","elev":3.32},{"date":"2005-03-23","elev":3.37},{"date":"2005-03-29","elev":3.27},{"date":"2005-04-03","elev":3.06},{"date":"2005-04-10","elev":2.96},{"date":"2005-04-18","elev":2.85},{"date":"2005-04-25","elev":2.64},{"date":"2005-05-02","elev":2.54},{"date":"2005-05-09","elev":2.38},{"date":"2005-05-16","elev":2.23},{"date":"2005-05-24","elev":2.07},{"date":"2005-05-29","elev":1.97},{"date":"2005-06-02","elev":1.97},{"date":"2005-06-03","elev":3.48},{"date":"2005-06-05","elev":4.57},{"date":"2005-06-07","elev":4.57},{"date":"2005-06-09","elev":5.5},{"date":"2005-06-11","elev":6.44},{"date":"2005-06-14","elev":6.33},{"date":"2005-06-18","elev":5.81},{"date":"2005-06-20","elev":6.75},{"date":"2005-06-22","elev":7.74},{"date":"2005-06-25","elev":8.26},{"date":"2005-07-01","elev":8.18},{"date":"2005-07-04","elev":8.1},{"date":"2005-07-08","elev":8.36},{"date":"2005-07-13","elev":8.44},{"date":"2005-07-21","elev":8.31},{"date":"2005-07-26","elev":8.39},{"date":"2005-07-31","elev":8.31},{"date":"2005-08-06","elev":8.46},{"date":"2005-08-09","elev":8.59},{"date":"2005-08-15","elev":8.46},{"date":"2005-08-20","elev":8.52},{"date":"2005-08-26","elev":8.41},{"date":"2005-08-31","elev":8.65},{"date":"2005-09-04","elev":8.7},{"date":"2005-09-07","elev":8.46},{"date":"2005-09-11","elev":8.1},{"date":"2005-09-13","elev":7.58},{"date":"2005-09-16","elev":7.0},{"date":"2005-09-19","elev":7.37},{"date":"2005-09-22","elev":7.79},{"date":"2005-09-25","elev":7.48},{"date":"2005-09-29","elev":7.63},{"date":"2005-10-03","elev":7.32},{"date":"2005-10-08","elev":7.37},{"date":"2005-10-12","elev":6.96},{"date":"2005-10-15","elev":6.65},{"date":"2005-10-19","elev":6.44},{"date":"2005-10-21","elev":6.39},{"date":"2005-10-22","elev":8.02},{"date":"2005-10-27","elev":8.0},{"date":"2005-10-30","elev":7.79},{"date":"2005-11-04","elev":7.58},{"date":"2005-11-10","elev":7.37},{"date":"2005-11-15","elev":7.27},{"date":"2005-11-20","elev":7.11},{"date":"2005-11-24","elev":7.0},{"date":"2005-11-28","elev":7.22},{"date":"2005-12-01","elev":7.06},{"date":"2005-12-07","elev":6.85},{"date":"2005-12-10","elev":6.65},{"date":"2005-12-16","elev":6.39},{"date":"2005-12-21","elev":5.97},{"date":"2005-12-27","elev":5.66},
{"date":"2006-01-01","elev":5.5},{"date":"2006-01-06","elev":5.29},{"date":"2006-01-11","elev":5.03},{"date":"2006-01-15","elev":4.88},{"date":"2006-01-19","elev":4.72},{"date":"2006-01-24","elev":4.51},{"date":"2006-01-30","elev":4.36},{"date":"2006-02-01","elev":4.31},{"date":"2006-02-02","elev":5.97},{"date":"2006-02-05","elev":5.76},{"date":"2006-02-09","elev":5.4},{"date":"2006-02-13","elev":5.14},{"date":"2006-02-19","elev":4.88},{"date":"2006-02-24","elev":4.62},{"date":"2006-03-02","elev":4.36},{"date":"2006-03-07","elev":4.15},{"date":"2006-03-12","elev":3.94},{"date":"2006-03-18","elev":3.73},{"date":"2006-03-23","elev":3.53},{"date":"2006-03-29","elev":3.32},{"date":"2006-04-03","elev":3.16},{"date":"2006-04-09","elev":3.01},{"date":"2006-04-14","elev":2.85},{"date":"2006-04-19","elev":2.7},{"date":"2006-04-25","elev":2.54},{"date":"2006-04-30","elev":2.38},{"date":"2006-05-07","elev":2.23},{"date":"2006-05-17","elev":2.12},{"date":"2006-05-25","elev":2.07},{"date":"2006-06-02","elev":2.07},{"date":"2006-06-05","elev":2.12},{"date":"2006-06-07","elev":2.38},{"date":"2006-06-11","elev":2.64},{"date":"2006-06-14","elev":2.85},{"date":"2006-06-18","elev":3.21},{"date":"2006-06-22","elev":3.58},{"date":"2006-06-23","elev":4.36},{"date":"2006-06-24","elev":4.83},{"date":"2006-06-29","elev":4.72},{"date":"2006-07-01","elev":4.67},{"date":"2006-07-03","elev":4.77},{"date":"2006-07-04","elev":5.55},{"date":"2006-07-07","elev":6.17},{"date":"2006-07-09","elev":6.54},{"date":"2006-07-12","elev":6.23},{"date":"2006-07-14","elev":6.02},{"date":"2006-07-17","elev":6.7},{"date":"2006-07-19","elev":6.02},{"date":"2006-07-22","elev":6.54},{"date":"2006-07-24","elev":6.28},{"date":"2006-07-26","elev":6.75},{"date":"2006-07-29","elev":6.33},{"date":"2006-07-31","elev":5.92},{"date":"2006-08-04","elev":6.02},{"date":"2006-08-07","elev":6.07},{"date":"2006-08-09","elev":5.71},{"date":"2006-08-13","elev":5.5},{"date":"2006-08-15","elev":5.4},{"date":"2006-08-17","elev":6.44},{"date":"2006-08-20","elev":6.54},{"date":"2006-08-23","elev":6.65},{"date":"2006-08-25","elev":7.63},{"date":"2006-08-28","elev":8.31},{"date":"2006-08-31","elev":8.57},{"date":"2006-09-04","elev":8.7},{"date":"2006-09-07","elev":8.72},{"date":"2006-09-11","elev":8.65},{"date":"2006-09-16","elev":8.52},{"date":"2006-09-22","elev":8.44},{"date":"2006-09-27","elev":8.2},{"date":"2006-10-01","elev":8.0},{"date":"2006-10-03","elev":7.69},{"date":"2006-10-06","elev":7.48},{"date":"2006-10-10","elev":7.27},{"date":"2006-10-14","elev":7.06},{"date":"2006-10-18","elev":7.11},{"date":"2006-10-23","elev":7.0},{"date":"2006-10-26","elev":6.98},{"date":"2006-10-28","elev":7.43},{"date":"2006-10-31","elev":8.0},{"date":"2006-11-02","elev":8.15},{"date":"2006-11-06","elev":8.0},{"date":"2006-11-10","elev":7.79},{"date":"2006-11-13","elev":7.58},{"date":"2006-11-17","elev":7.32},{"date":"2006-11-21","elev":7.06},{"date":"2006-11-24","elev":6.85},{"date":"2006-11-30","elev":6.54},{"date":"2006-12-05","elev":6.23},{"date":"2006-12-09","elev":5.97},{"date":"2006-12-12","elev":5.87},{"date":"2006-12-14","elev":5.97},{"date":"2006-12-17","elev":6.07},{"date":"2006-12-19","elev":5.76},{"date":"2006-12-22","elev":6.28},{"date":"2006-12-25","elev":6.18},{"date":"2006-12-28","elev":5.92},
{"date":"2007-01-01","elev":5.71},{"date":"2007-01-05","elev":5.5},{"date":"2007-01-10","elev":5.29},{"date":"2007-01-16","elev":5.09},{"date":"2007-01-21","elev":4.93},{"date":"2007-01-26","elev":4.77},{"date":"2007-02-01","elev":4.67},{"date":"2007-02-04","elev":4.72},{"date":"2007-02-10","elev":4.67},{"date":"2007-02-15","elev":4.57},{"date":"2007-02-21","elev":4.41},{"date":"2007-02-26","elev":4.31},{"date":"2007-03-04","elev":4.15},{"date":"2007-03-09","elev":4.0},{"date":"2007-03-14","elev":3.84},{"date":"2007-03-20","elev":3.68},{"date":"2007-03-25","elev":3.53},{"date":"2007-03-31","elev":3.42},{"date":"2007-04-05","elev":3.32},{"date":"2007-04-09","elev":3.27},{"date":"2007-04-12","elev":3.48},{"date":"2007-04-16","elev":3.42},{"date":"2007-04-21","elev":3.32},{"date":"2007-04-27","elev":3.16},{"date":"2007-05-01","elev":3.16},{"date":"2007-05-04","elev":3.48},{"date":"2007-05-08","elev":3.45},{"date":"2007-05-11","elev":3.32},{"date":"2007-05-17","elev":3.16},{"date":"2007-05-22","elev":3.01},{"date":"2007-05-27","elev":2.85},{"date":"2007-06-02","elev":2.7},{"date":"2007-06-05","elev":2.85},{"date":"2007-06-09","elev":2.96},{"date":"2007-06-15","elev":3.11},{"date":"2007-06-18","elev":3.21},{"date":"2007-06-25","elev":3.21},{"date":"2007-07-01","elev":3.16},{"date":"2007-07-06","elev":3.11},{"date":"2007-07-10","elev":3.42},{"date":"2007-07-13","elev":3.68},{"date":"2007-07-17","elev":3.84},{"date":"2007-07-22","elev":3.89},{"date":"2007-07-27","elev":3.94},{"date":"2007-07-29","elev":4.67},{"date":"2007-08-02","elev":4.62},{"date":"2007-08-06","elev":4.41},{"date":"2007-08-10","elev":4.31},{"date":"2007-08-13","elev":4.25},{"date":"2007-08-14","elev":5.19},{"date":"2007-08-17","elev":4.98},{"date":"2007-08-20","elev":4.88},{"date":"2007-08-22","elev":6.59},{"date":"2007-08-25","elev":6.55},{"date":"2007-08-28","elev":6.44},{"date":"2007-08-29","elev":5.92},{"date":"2007-08-31","elev":6.65},{"date":"2007-09-04","elev":6.44},{"date":"2007-09-07","elev":6.44},{"date":"2007-09-09","elev":6.65},{"date":"2007-09-11","elev":6.85},{"date":"2007-09-13","elev":7.22},{"date":"2007-09-15","elev":7.6},{"date":"2007-09-17","elev":7.9},{"date":"2007-09-20","elev":8.18},{"date":"2007-09-24","elev":8.15},{"date":"2007-09-27","elev":7.58},{"date":"2007-10-01","elev":7.69},{"date":"2007-10-04","elev":7.27},{"date":"2007-10-06","elev":6.96},{"date":"2007-10-10","elev":6.65},{"date":"2007-10-14","elev":6.18},{"date":"2007-10-17","elev":6.02},{"date":"2007-10-21","elev":5.97},{"date":"2007-10-24","elev":5.76},{"date":"2007-10-28","elev":5.55},{"date":"2007-11-01","elev":5.35},{"date":"2007-11-04","elev":5.14},{"date":"2007-11-08","elev":4.98},{"date":"2007-11-11","elev":4.83},{"date":"2007-11-15","elev":4.67},{"date":"2007-11-19","elev":4.51},{"date":"2007-11-24","elev":4.41},{"date":"2007-11-30","elev":4.31},{"date":"2007-12-05","elev":4.2},{"date":"2007-12-10","elev":4.1},{"date":"2007-12-18","elev":4.0},{"date":"2007-12-25","elev":3.89},
{"date":"2008-01-01","elev":3.79},{"date":"2008-01-08","elev":3.68},{"date":"2008-01-15","elev":3.58},{"date":"2008-01-23","elev":3.48},{"date":"2008-01-30","elev":3.37},{"date":"2008-02-04","elev":3.27},{"date":"2008-02-07","elev":3.24},{"date":"2008-02-09","elev":5.92},{"date":"2008-02-13","elev":5.61},{"date":"2008-02-17","elev":5.4},{"date":"2008-02-21","elev":5.19},{"date":"2008-02-24","elev":4.98},{"date":"2008-02-28","elev":4.77},{"date":"2008-03-02","elev":4.62},{"date":"2008-03-06","elev":4.51},{"date":"2008-03-10","elev":4.41},{"date":"2008-03-15","elev":4.31},{"date":"2008-03-19","elev":4.2},{"date":"2008-03-22","elev":4.46},{"date":"2008-03-24","elev":4.31},{"date":"2008-03-28","elev":5.14},{"date":"2008-03-31","elev":5.24},{"date":"2008-04-02","elev":6.12},{"date":"2008-04-06","elev":6.02},{"date":"2008-04-08","elev":5.5},{"date":"2008-04-11","elev":5.24},{"date":"2008-04-15","elev":4.98},{"date":"2008-04-18","elev":4.77},{"date":"2008-04-22","elev":4.57},{"date":"2008-04-26","elev":4.36},{"date":"2008-04-29","elev":4.15},{"date":"2008-05-03","elev":4.0},{"date":"2008-05-07","elev":3.84},{"date":"2008-05-10","elev":3.63},{"date":"2008-05-14","elev":3.42},{"date":"2008-05-17","elev":3.27},{"date":"2008-05-21","elev":3.11},{"date":"2008-05-26","elev":2.88},{"date":"2008-05-30","elev":3.11},{"date":"2008-06-01","elev":3.84},{"date":"2008-06-04","elev":4.05},{"date":"2008-06-07","elev":4.05}
],
"notes": [
{"date":"2006-09-02","elev":2.05,"label":"Canal"},
{"date":"2006-09-02","elev":1.48,"label":"Filled"}
],
"arrow": [
{"date":"2006-09-14","elev":1.28,"bottom":0.36,"head":0.25}
]
},
"config": {
"font": "Liberation Sans",
"view": {"fill": "#C0C0C0", "stroke": "#808080", "strokeWidth": 2},
"axis": {"labelFont": "Liberation Sans", "labelColor": "#000000", "labelFontSize": 36, "domainColor": "#000000", "tickColor": "#000000", "titleColor": "#000000"}
},
"encoding": {
"x": {
"field": "date", "type": "temporal",
"scale": {"domain": [{"year": 2003, "month": 8, "date": 11}, {"year": 2008, "month": 7, "date": 15}], "nice": false},
"axis": {
"title": null,
"values": [{"year": 2003, "month": 8, "date": 11}, {"year": 2004, "month": 2, "date": 27}, {"year": 2004, "month": 9, "date": 14}, {"year": 2005, "month": 4, "date": 2}, {"year": 2005, "month": 10, "date": 19}, {"year": 2006, "month": 5, "date": 7}, {"year": 2006, "month": 11, "date": 23}, {"year": 2007, "month": 6, "date": 11}, {"year": 2007, "month": 12, "date": 28}, {"year": 2008, "month": 7, "date": 15}],
"format": "%b-%y",
"grid": false,
"tickSize": 12,
"tickWidth": 1.2,
"labelPadding": 28,
"labelFlush": false,
"labelOverlap": false,
"labelBound": false,
"domainWidth": 2.5
}
}
},
"layer": [
{
"data": {"name": "merritt"},
"mark": {"type": "line", "strokeWidth": 6.5, "strokeJoin": "round", "strokeCap": "round"},
"encoding": {
"y": {
"field": "elev", "type": "quantitative",
"scale": {"domain": [0, 10], "nice": false, "zero": true},
"axis": {
"title": "Elevation (ft above MSL)",
"titleFont": "Liberation Sans", "titleFontSize": 41, "titleFontWeight": "bold",
"titleAngle": 270, "titleAlign": "center", "titleBaseline": "middle",
"titleX": -101, "titleY": 484,
"values": [0, 1, 2, 3, 4, 5, 6, 7, 8, 9, 10],
"format": "d",
"grid": true, "gridColor": "#1a1a1a", "gridWidth": 1.2,
"tickSize": 8, "tickWidth": 1.2, "labelPadding": 15,
"domainWidth": 2
}
},
"color": {
"datum": "Merritt Canal (Unfilled)", "type": "nominal",
"scale": {"domain": ["Merritt Canal (Unfilled)", "Midway", "Prairie Canal (Filled)"], "range": ["#FF0000", "#FFFF00", "#00FF00"]},
"legend": {
"title": null, "orient": "none", "legendX": 304, "legendY": 1082,
"direction": "horizontal",
"fillColor": "#C0C0C0", "strokeColor": "#000000", "padding": 15,
"symbolType": "M-1,0H3", "symbolStrokeWidth": 8, "symbolSize": 1482,
"labelFontSize": 33, "labelFont": "Liberation Sans", "labelColor": "#000000",
"labelLimit": 0, "labelOffset": 43, "columnPadding": -5
}
}
}
},
{
"data": {"name": "midway"},
"mark": {"type": "line", "strokeWidth": 6.5, "strokeJoin": "round", "strokeCap": "round"},
"encoding": {
"y": {"field": "elev", "type": "quantitative"},
"color": {"datum": "Midway", "type": "nominal"}
}
},
{
"data": {"name": "prairie"},
"mark": {"type": "line", "strokeWidth": 6.5, "strokeJoin": "round", "strokeCap": "round"},
"encoding": {
"y": {"field": "elev", "type": "quantitative"},
"color": {"datum": "Prairie Canal (Filled)", "type": "nominal"}
}
},
{
"data": {"name": "notes"},
"mark": {"type": "text", "align": "left", "baseline": "alphabetic", "font": "Liberation Sans", "fontSize": 44, "fontWeight": "bold", "color": "#000000"},
"encoding": {
"y": {"field": "elev", "type": "quantitative"},
"text": {"field": "label"}
}
},
{
"data": {"name": "arrow"},
"mark": {"type": "rule", "color": "#00FF00", "strokeWidth": 5},
"encoding": {
"y": {"field": "elev", "type": "quantitative"},
"y2": {"field": "bottom"}
}
},
{
"data": {"name": "arrow"},
"mark": {"type": "point", "shape": "triangle-down", "filled": true, "size": 800, "color": "#00FF00", "opacity": 1, "strokeWidth": 0},
"encoding": {
"y": {"field": "head", "type": "quantitative"}
}
}
]
}
